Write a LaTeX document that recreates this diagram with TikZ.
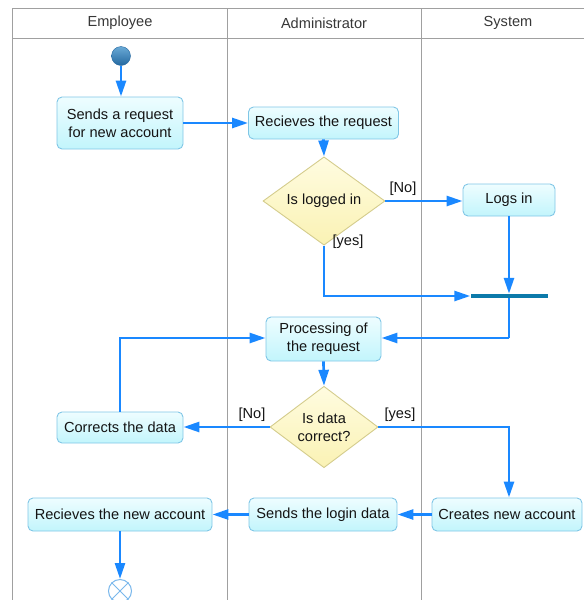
\documentclass[tikz,border=0pt]{standalone}
\usepackage{fontspec}
\setmainfont{Liberation Sans}
\usetikzlibrary{shapes.geometric,arrows.meta}
\definecolor{flow}{HTML}{1A88FF}
\definecolor{boxtop}{HTML}{EEFDFF}
\definecolor{boxbot}{HTML}{C2F5FC}
\definecolor{boxline}{HTML}{80C6E6}
\definecolor{dtop}{HTML}{FFFCE0}
\definecolor{dbot}{HTML}{FAF2B4}
\definecolor{dline}{HTML}{D4CC8C}
\definecolor{lane}{HTML}{A0A0A0}
\definecolor{barcol}{HTML}{0C7AAA}
\definecolor{starttop}{HTML}{6AAAD6}
\definecolor{startbot}{HTML}{2468A0}
\definecolor{endcol}{HTML}{7AB8EC}
\definecolor{txt}{HTML}{141414}
\tikzset{
  actbox/.style={draw=boxline, line width=0.9pt, rounded corners=5pt, top color=boxtop, bottom color=boxbot, inner sep=0pt, align=center, text=txt},
  decbox/.style={diamond, draw=dline, line width=0.9pt, top color=dtop, bottom color=dbot, inner sep=0pt, align=center, text=txt},
  conn/.style={draw=flow, line width=2.7pt, -{Triangle[length=16pt,width=10pt]}},
  plainconn/.style={draw=flow, line width=2.7pt},
  lanel/.style={draw=lane, line width=0.9pt},
  guard/.style={text=txt, inner sep=0pt},
  header/.style={text=txt!85, inner sep=0pt}
}
\begin{document}
\begin{tikzpicture}[x=1pt,y=-1pt,font=\fontsize{14.6}{18}\selectfont]
\useasboundingbox (0,0) rectangle (584,600);
% swimlane frame
\coordinate (tl) at (12,8);
\coordinate (tr) at (584,8);
\coordinate (hl) at (12,38);
\coordinate (hr) at (584,38);
\coordinate (bl) at (12,600);
\coordinate (l1t) at (227,8);
\coordinate (l1b) at (227,600);
\coordinate (l2t) at (421,8);
\coordinate (l2b) at (421,600);
\draw[lanel] (tr) -- (tl) -- (bl);
\draw[lanel] (hl) -- (hr);
\draw[lanel] (l1t) -- (l1b);
\draw[lanel] (l2t) -- (l2b);
\node[header] (hemp) at (120,23) {Employee};
\node[header] (hadm) at (324,23) {Administrator};
\node[header] (hsys) at (508,23) {System};

% nodes
\node[circle, minimum size=19pt, inner sep=0pt, draw=startbot, line width=0.4pt, shading angle=30, top color=starttop, bottom color=startbot] (start) at (121,56) {};
\node[actbox, minimum width=126pt, minimum height=52pt] (send) at (120,123) {Sends a request\\for new account};
\node[actbox, minimum width=150pt, minimum height=32pt] (recv) at (323.5,123) {Recieves the request};
\node[decbox, minimum width=122pt, minimum height=62pt] (d1) at (324,201) {Is logged in};
\node[actbox, minimum width=92pt, minimum height=32pt] (logs) at (509,200) {Logs in};
\node[rectangle, fill=barcol, minimum width=77pt, minimum height=4pt, inner sep=0pt] (bar) at (509,296) {};
\node[actbox, minimum width=115pt, minimum height=44pt] (proc) at (323.5,339) {Processing of\\the request};
\node[decbox, minimum width=108pt, minimum height=76pt] (d2) at (324,427) {Is data\\correct?};
\node[actbox, minimum width=126pt, minimum height=31pt] (corr) at (120,427.5) {Corrects the data};
\node[actbox, minimum width=184pt, minimum height=33pt] (racc) at (120,514.5) {Recieves the new account};
\node[actbox, minimum width=148pt, minimum height=33pt] (slog) at (323,514.5) {Sends the login data};
\node[actbox, minimum width=150pt, minimum height=33pt] (cacc) at (507,514.5) {Creates new account};
\node[circle, draw=endcol, line width=1pt, minimum size=23pt, inner sep=0pt, fill=white] (endn) at (120,591) {};
\draw[endcol, line width=1pt] (endn.north west) -- (endn.south east) (endn.north east) -- (endn.south west);

% guards
\node[guard] (gno1) at (403,189) {[No]};
\node[guard] (gyes1) at (348,242) {[yes]};
\node[guard] (gno2) at (252,415) {[No]};
\node[guard] (gyes2) at (400,415) {[yes]};

% connectors
\coordinate (y1) at (324,296);
\coordinate (j1) at (509,338);
\coordinate (c1) at (120,338);
\coordinate (r1) at (509,427);
\draw[conn] (start) -- (send.north -| start);
\draw[conn] (send.east |- recv.west) -- (recv.west);
\draw[conn] (recv.south) -- (d1.north);
\draw[conn] (d1.east) -- (logs.west |- d1.east);
\draw[conn] (d1.south) -- (y1) -- (bar.west);
\draw[conn] (logs.south) -- (bar.north);
\draw[plainconn] (bar.south) -- (j1);
\draw[conn] (j1) -- (proc.east |- j1);
\draw[conn] (proc.south) -- (d2.north);
\draw[conn] (d2.west) -- (corr.east |- d2.west);
\draw[conn] (corr.north) -- (c1) -- (proc.west |- c1);
\draw[conn] (d2.east) -- (r1) -- (r1 |- cacc.north);
\draw[conn] (cacc.west) -- (slog.east);
\draw[conn] (slog.west) -- (racc.east);
\draw[conn] (racc.south) -- (endn.north);
\end{tikzpicture}
\end{document}
